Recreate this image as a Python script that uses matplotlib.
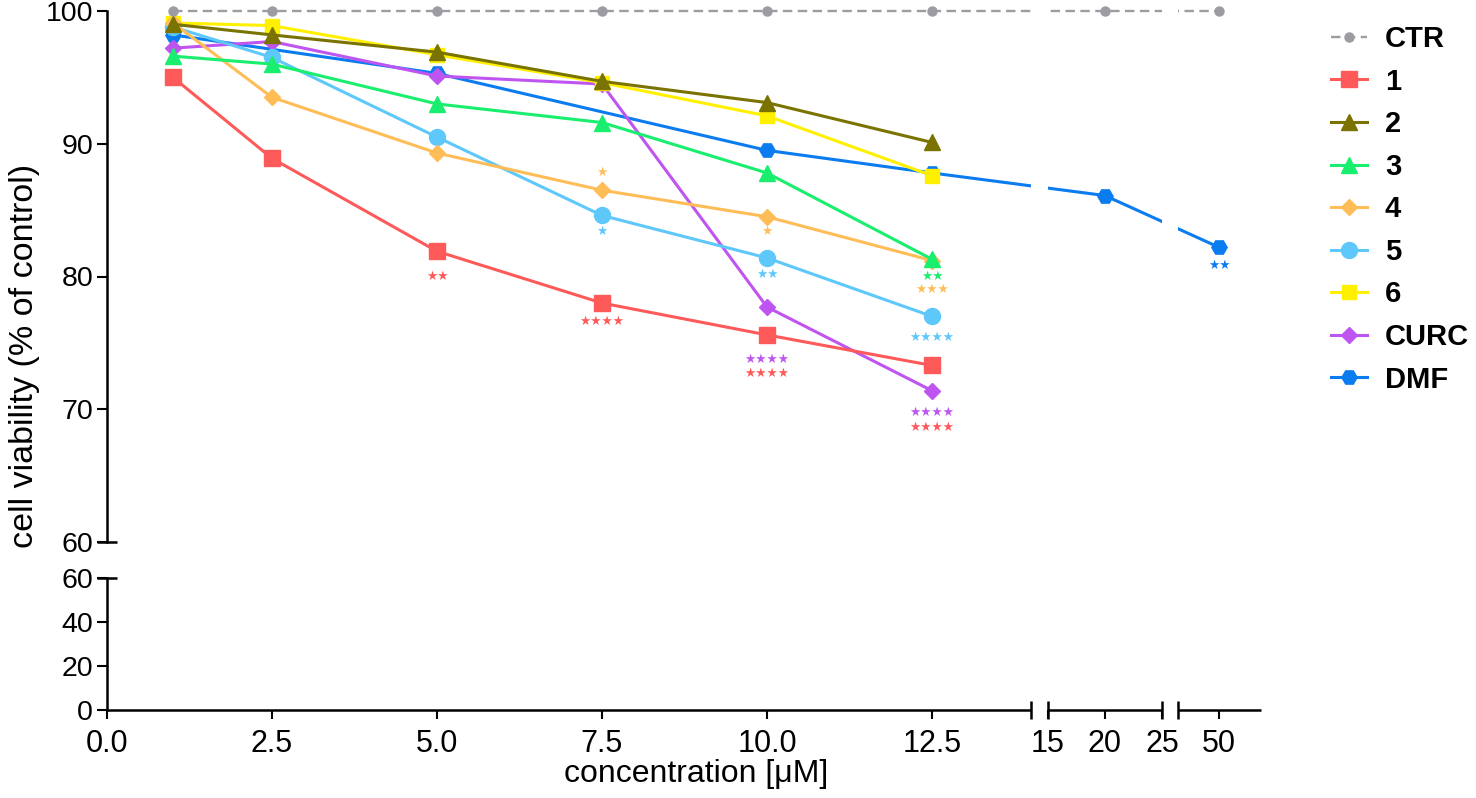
import numpy as np
import matplotlib
matplotlib.use("Agg")
import matplotlib.pyplot as plt

# ---------------- data ----------------
conc = [1, 2.5, 5, 7.5, 10, 12.5]
ctr_x = [1, 2.5, 5, 7.5, 10, 12.5, 20, 50]
ctr_y = [100, 100, 100, 100, 100, 100, 100, 100]
dmf_x = [1, 5, 10, 12.5, 20, 50]

v1 = [95.0, 88.9, 81.9, 78.0, 75.6, 73.3]
v2 = [99.0, 98.2, 96.9, 94.7, 93.1, 90.1]
v3 = [96.6, 96.0, 93.0, 91.6, 87.8, 81.3]
v4 = [99.1, 93.5, 89.3, 86.5, 84.5, 81.2]
v5 = [98.8, 96.5, 90.5, 84.6, 81.4, 77.0]
v6 = [99.1, 98.9, 96.7, 94.6, 92.1, 87.6]
curc = [97.2, 97.7, 95.1, 94.5, 77.7, 71.4]
dmf = [98.2, 95.3, 89.5, 87.8, 86.1, 82.2]

labels = ["CTR", "1", "2", "3", "4", "5", "6", "CURC", "DMF"]

xtick_vals = [0, 2.5, 5, 7.5, 10, 12.5, 15, 20, 25, 50]
xtick_labels = ["0.0", "2.5", "5.0", "7.5", "10.0", "12.5", "15", "20", "25", "50"]
ytick_top = [60, 70, 80, 90, 100]
ytick_bot = [0, 20, 40, 60]

# significance marks: (series, x, stars)
sig_series = ["1", "1", "1", "1", "4", "5", "4", "5", "CURC", "CURC", "3", "4", "5", "DMF"]
sig_x = [5, 7.5, 10, 12.5, 7.5, 7.5, 10, 10, 10, 12.5, 12.5, 12.5, 12.5, 50]
sig_text = ["\u2605\u2605", "\u2605\u2605\u2605\u2605", "\u2605\u2605\u2605\u2605",
            "\u2605\u2605\u2605\u2605", "\u2605", "\u2605", "\u2605", "\u2605\u2605",
            "\u2605\u2605\u2605\u2605", "\u2605\u2605\u2605\u2605", "\u2605\u2605",
            "\u2605\u2605\u2605", "\u2605\u2605\u2605\u2605", "\u2605\u2605"]
# vertical offsets of the marks (pixels below the point; negative = above)
sig_off = [25, 18, 39, 62, -18, 16, 15, 17, 52, 22, 17, 29, 21, 18]

# ---------------- styles ----------------
colors = {"CTR": "#9c9ca2", "1": "#ff5a5a", "2": "#7a7300", "3": "#1aee6e",
          "4": "#ffbd58", "5": "#5ec8fa", "6": "#fff000", "CURC": "#bf55f0",
          "DMF": "#0a7cf0"}
markers = {"CTR": "o", "1": "s", "2": "^", "3": "^", "4": "D", "5": "o",
           "6": "s", "CURC": "D", "DMF": "H"}
msizes = {"CTR": 6.5, "1": 11.5, "2": 12, "3": 11, "4": 8, "5": 11.5,
          "6": 9.5, "CURC": 8.5, "DMF": 11}

W, H = 1476, 798
fig = plt.figure(figsize=(W / 100, H / 100), dpi=100)
plt.rcParams["font.family"] = ["Liberation Sans", "DejaVu Sans"]


def fx(px):
    return px / W


def fy(py):
    return 1 - py / H


L, R = 107, 1261
ax_top = fig.add_axes([fx(L), fy(542), (R - L) / W, (542 - 11) / H])
ax_bot = fig.add_axes([fx(L), fy(710), (R - L) / W, (710 - 578) / H])

# piecewise (broken) x scale
XB = np.array([0, 14, 15, 25, 46.42, 53.67])
UB = np.array([107, 1031, 1047.5, 1162, 1178, 1261.0])


def fwd(x):
    x = np.asarray(x, float)
    u = np.interp(x, XB, UB)
    u = np.where(x < XB[0], UB[0] + (x - XB[0]) * 66, u)
    u = np.where(x > XB[-1], UB[-1] + (x - XB[-1]) * 11.45, u)
    return u


def inv(u):
    u = np.asarray(u, float)
    x = np.interp(u, UB, XB)
    x = np.where(u < UB[0], XB[0] + (u - UB[0]) / 66, x)
    x = np.where(u > UB[-1], XB[-1] + (u - UB[-1]) / 11.45, x)
    return x


for ax in (ax_top, ax_bot):
    ax.set_xscale("function", functions=(fwd, inv))
    ax.set_xlim(0, 53.67)
    for s in ("top", "right", "bottom"):
        ax.spines[s].set_visible(False)
    ax.spines["left"].set_linewidth(1.8)
    ax.tick_params(axis="y", length=7, width=1.5, labelsize=20.5, pad=3)
    ax.patch.set_alpha(0)
    ax.xaxis.set_minor_locator(matplotlib.ticker.NullLocator())

ax_top.set_ylim(60, 100)
ax_top.set_yticks(ytick_top)
ax_top.set_xticks([])
ax_top.tick_params(axis="x", length=0)

ax_bot.set_ylim(0, 60)
ax_bot.set_yticks(ytick_bot)
ax_bot.set_xticks(xtick_vals)
ax_bot.set_xticklabels(xtick_labels)
ax_bot.tick_params(axis="x", length=6.5, width=1.5, labelsize=22, pad=7)

# broken x spine
xt = ax_bot.get_xaxis_transform()
for a, b in [(0, 14), (15, 25), (46.42, 53.67)]:
    ax_bot.plot([a, b], [0, 0], transform=xt, color="black", lw=1.8,
                clip_on=False, solid_capstyle="butt")
for xb in [14, 15, 25, 46.42]:
    ax_bot.plot([xb, xb], [-0.068, 0.068], transform=xt, color="black",
                lw=1.8, clip_on=False, solid_capstyle="butt")
# y break marks at 60
for ax in (ax_top, ax_bot):
    ax.plot([-0.0087, 0.0087], [60, 60], transform=ax.get_yaxis_transform(),
            color="black", lw=1.8, clip_on=False, solid_capstyle="butt")

# ---------------- data lines ----------------
series = {
    "CTR": (ctr_x, ctr_y), "1": (conc, v1), "2": (conc, v2), "3": (conc, v3),
    "4": (conc, v4), "5": (conc, v5), "6": (conc, v6), "CURC": (conc, curc),
    "DMF": (dmf_x, dmf),
}
handles = []
for i, name in enumerate(labels):
    xs, ys = series[name]
    if name == "CTR":
        ls = (0, (4, 2.3))
        lw = 1.7
    else:
        ls = "-"
        lw = 2.2
    ln, = ax_top.plot(xs, ys, color=colors[name], marker=markers[name],
                      ms=msizes[name], lw=lw, ls=ls, mec=colors[name],
                      clip_on=False, zorder=10 - i, label=name)
    handles.append(ln)

# gaps of the broken axis through the lines
for a, b in [(14, 15), (25, 46.42)]:
    ax_top.axvspan(a, b, ymin=-0.01, ymax=1.03, color="white", lw=0,
                   zorder=12, clip_on=False)

# significance marks
for s, x, t, off in zip(sig_series, sig_x, sig_text, sig_off):
    xs, ys = series[s]
    y = ys[list(xs).index(x)]
    ax_top.annotate(t, xy=(x, y), xytext=(0, -off * 0.72),
                    textcoords="offset points", ha="center", va="center",
                    fontsize=9, family="DejaVu Sans", color=colors[s],
                    zorder=13, annotation_clip=False)

# axis labels
fig.text(fx(25), fy(356), "cell viability (% of control)", rotation=90,
         ha="center", va="center", fontsize=24.5)
fig.text(fx(696), fy(774), "concentration [\u03bcM]", ha="center",
         va="center", fontsize=23)

# legend
fig.legend(handles, labels, loc="upper left",
           bbox_to_anchor=(fx(1331), fy(25)), frameon=False,
           prop=dict(weight="bold", size=21), handlelength=1.25,
           handletextpad=0.6, labelspacing=0.5, borderpad=0,
           borderaxespad=0)

fig.savefig("out.png", dpi=100)
